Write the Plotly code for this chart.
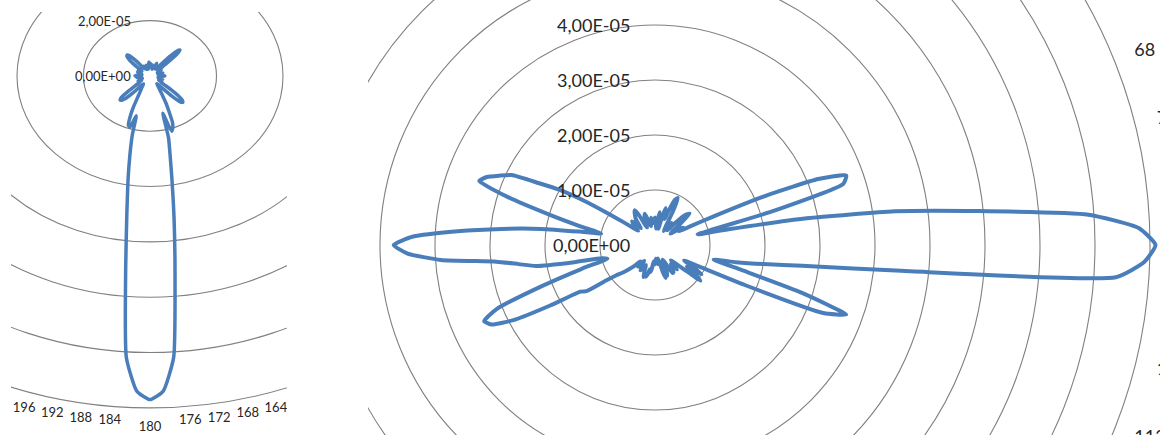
import numpy as np
import plotly.graph_objects as go

# ---------------- data (radar values, unit = 1E-05) ----------------
angles = list(range(0, 360, 2))

left_vals = [
    0.4, 0.45, 0.4, 0.3, 0.35, 0.4, 0.3, 0.25, 0.3, 0.35,
    0.3, 0.4, 0.5, 0.4, 0.3, 0.35, 0.4, 0.35, 0.3, 0.5,
    0.9, 1.2, 1.3, 1.1, 0.6, 0.4, 0.3, 0.3, 0.35, 0.4,
    0.3, 0.25, 0.3, 0.35, 0.3, 0.25, 0.3, 0.4, 0.35, 0.3,
    0.25, 0.3, 0.35, 0.3, 0.4, 0.45, 0.4, 0.3, 0.25, 0.3,
    0.35, 0.3, 0.25, 0.3, 0.4, 0.35, 0.3, 0.35, 0.4, 0.35,
    0.3, 0.35, 0.4, 0.5, 0.8, 1.1, 1.3, 1.37, 1.3, 1.0,
    0.6, 0.4, 0.35, 0.4, 0.5, 0.6, 0.8, 1.1, 1.4, 1.8,
    2.0, 2.1, 1.4, 2.3, 2.9, 3.8, 5.2, 7.2, 10.2, 11.4,
    11.7, 11.4, 10.2, 7.0, 5.0, 3.8, 2.9, 2.2, 1.5, 1.95,
    1.9, 1.6, 1.2, 0.8, 0.6, 0.5, 0.4, 0.35, 0.4, 0.5,
    0.8, 1.1, 1.22, 1.25, 1.15, 0.8, 0.5, 0.4, 0.35, 0.3,
    0.3, 0.35, 0.4, 0.3, 0.25, 0.3, 0.35, 0.3, 0.25, 0.3,
    0.4, 0.35, 0.3, 0.35, 0.4, 0.45, 0.4, 0.3, 0.25, 0.3,
    0.35, 0.3, 0.25, 0.3, 0.35, 0.4, 0.35, 0.3, 0.35, 0.4,
    0.35, 0.3, 0.35, 0.3, 0.4, 0.55, 0.75, 0.9, 1.0, 1.02,
    0.95, 0.75, 0.5, 0.35, 0.3, 0.35, 0.4, 0.35, 0.3, 0.25,
    0.3, 0.35, 0.4, 0.3, 0.25, 0.3, 0.35, 0.4, 0.5, 0.45,
]

right_vals = [
    0.5, 0.4, 0.3, 0.45, 0.6, 0.4, 0.3, 0.5, 0.7, 0.6,
    0.5, 0.7, 0.9, 0.95, 0.7, 0.4, 0.3, 0.4, 0.5, 0.45,
    0.35, 0.5, 0.7, 0.8, 0.85, 0.6, 0.4, 0.35, 0.5, 0.6,
    0.5, 0.7, 1.2, 2.2, 3.2, 3.7, 3.6, 2.2, 0.8, 1.4,
    2.8, 4.4, 5.9, 7.9, 8.8, 9.1, 8.9, 8.4, 4.5, 2.7,
    2.0, 1.5, 1.1, 1.6, 2.8, 3.7, 3.3, 1.8, 0.9, 0.6,
    0.8, 1.0, 0.7, 0.9, 1.05, 0.7, 0.5, 0.4, 0.5, 0.6,
    0.45, 0.5, 0.55, 0.6, 0.6, 0.4, 0.3, 0.35, 0.5, 0.6,
    0.55, 0.63, 0.5, 0.3, 0.25, 0.3, 0.35, 0.3, 0.25, 0.3,
    0.35, 0.3, 0.3, 0.35, 0.45, 0.5, 0.45, 0.55, 0.6, 0.55,
    0.62, 0.5, 0.4, 0.45, 0.5, 0.53, 0.45, 0.35, 0.4, 0.5,
    0.45, 0.4, 0.5, 0.6, 0.7, 0.8, 0.9, 1.1, 1.5, 1.6,
    2.2, 2.9, 3.3, 3.4, 3.1, 2.2, 1.4, 0.9, 1.0, 1.5,
    2.2, 2.5, 2.9, 3.9, 4.5, 4.75, 4.4, 3.6, 2.8, 2.1,
    1.4, 1.0, 1.4, 2.0, 2.8, 3.4, 3.3, 3.1, 2.9, 2.4,
    2.0, 1.5, 1.0, 0.7, 0.5, 0.4, 0.5, 0.55, 0.6, 0.5,
    0.4, 0.5, 0.6, 0.65, 0.7, 0.73, 0.6, 0.4, 0.35, 0.45,
    0.55, 0.6, 0.5, 0.4, 0.35, 0.4, 0.5, 0.45, 0.4, 0.45,
]

VALUE_UNIT = 1e-5
left_ring_ticks = [0, 2e-5, 4e-5, 6e-5, 8e-5, 1.0e-4, 1.2e-4]
right_ring_ticks = [0, 1e-5, 2e-5, 3e-5, 4e-5, 5e-5, 6e-5, 7e-5, 8e-5, 9e-5]
left_cat_labels = list(range(0, 360, 4))
right_cat_labels = [68, 76, 104, 112]

# ---------------- helpers ----------------
FONT = "Lato"
TEXT_COLOR = "#262626"
LINE_COLOR = "#4a7ebb"
GRID_COLOR = "#808080"


def to_xy(theta_deg, r):
    t = np.deg2rad(np.asarray(theta_deg, dtype=float))
    r = np.asarray(r, dtype=float)
    return r * np.sin(t), r * np.cos(t)


def fmt(v):
    return f"{v:.2E}".replace(".", ",")


def side_position(theta):
    t = theta % 360
    if t == 0:
        return "top center"
    if t == 180:
        return "bottom center"
    return "middle right" if t < 180 else "middle left"


fig = go.Figure()

panels = [
    dict(vals=left_vals, ticks=left_ring_ticks, cats=left_cat_labels,
         xa="x", ya="y", lw=3.5, lab_r=12.5, tick_font=13, cat_font=13, tick_shift=-17),
    dict(vals=right_vals, ticks=right_ring_ticks, cats=right_cat_labels,
         xa="x2", ya="y2", lw=4, lab_r=9.4, tick_font=18, cat_font=18, tick_shift=-23),
]

shapes = []
annotations = []
for p in panels:
    th = angles + [angles[0]]
    rr = p["vals"] + [p["vals"][0]]
    x, y = to_xy(th, rr)
    fig.add_trace(go.Scatter(
        x=x, y=y, mode="lines", xaxis=p["xa"], yaxis=p["ya"],
        line=dict(color=LINE_COLOR, width=p["lw"], shape="spline", smoothing=0.5),
        hoverinfo="skip", showlegend=False))

    # ring gridlines
    for tv in p["ticks"][1:]:
        r = tv / VALUE_UNIT
        shapes.append(dict(type="circle", xref=p["xa"], yref=p["ya"],
                           x0=-r, x1=r, y0=-r, y1=r, layer="below",
                           line=dict(color=GRID_COLOR, width=1.1)))

    # category labels
    r_lab = p["lab_r"]
    lx, ly = to_xy(p["cats"], [r_lab] * len(p["cats"]))
    fig.add_trace(go.Scatter(
        x=lx, y=ly, mode="text", xaxis=p["xa"], yaxis=p["ya"],
        text=[str(c) for c in p["cats"]],
        textposition=[side_position(c) for c in p["cats"]],
        textfont=dict(family=FONT, size=p["cat_font"], color=TEXT_COLOR),
        cliponaxis=True, hoverinfo="skip", showlegend=False))

layout_axes = {}
# left panel geometry (cropped, stretched radar)
layout_axes["xaxis"] = dict(domain=[11 / 1160, 287 / 1160], range=[-4.18, 4.12])
layout_axes["yaxis"] = dict(domain=[0, 423 / 435], range=[-12.98, 2.31])
layout_axes["xaxis2"] = dict(domain=[368 / 1160, 1.0], range=[-5.218, 9.182])
layout_axes["yaxis2"] = dict(domain=[0, 1.0], range=[-3.455, 4.4545])
for k, v in layout_axes.items():
    v.update(visible=False, showgrid=False, zeroline=False, fixedrange=True)
    if k.startswith("xaxis"):
        v["anchor"] = "y" if k == "xaxis" else "y2"
    else:
        v["anchor"] = "x" if k == "yaxis" else "x2"

# radial tick labels
for p in panels:
    yr = layout_axes["yaxis" if p["ya"] == "y" else "yaxis2"]["range"]
    for tv in p["ticks"]:
        r = tv / VALUE_UNIT
        if yr[0] <= r <= yr[1]:
            annotations.append(dict(
                x=0, y=r, xref=p["xa"], yref=p["ya"], text=fmt(tv),
                showarrow=False, xanchor="right", yanchor="middle",
                xshift=p["tick_shift"],
                font=dict(family=FONT, size=p["tick_font"], color=TEXT_COLOR)))

fig.update_layout(
    width=1160, height=435,
    margin=dict(l=0, r=0, t=0, b=0),
    paper_bgcolor="white", plot_bgcolor="white",
    shapes=shapes, annotations=annotations,
    **layout_axes,
)

fig.write_html("out.html")
